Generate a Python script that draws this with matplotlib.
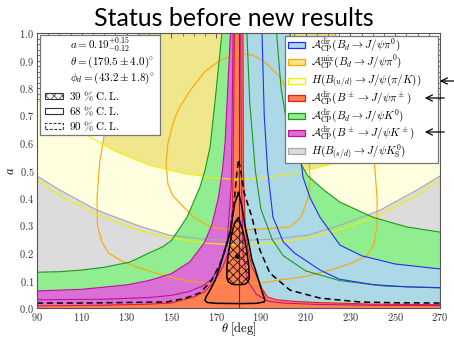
import numpy as np
import matplotlib.pyplot as plt
from matplotlib.patches import Rectangle, Polygon
from matplotlib.ticker import MultipleLocator, FuncFormatter

plt.rcParams['mathtext.fontset'] = 'cm'
plt.rcParams['font.family'] = 'serif'
plt.rcParams['font.serif'] = ['DejaVu Serif']
plt.rcParams['hatch.linewidth'] = 0.5

# ---- boundary curves (theta in deg, a) ----
# H(B_(u/d)) band, cream with yellow edges
hud_up_th = [90, 100, 112, 125, 140, 155, 170, 180, 190, 205, 220, 235, 248, 260, 270]
hud_up_a = [0.756, 0.70, 0.63, 0.57, 0.52, 0.49, 0.472, 0.468, 0.472, 0.49, 0.52, 0.57, 0.63, 0.70, 0.756]
hud_lo_th = [90, 100, 117, 135, 149, 165, 180, 195, 211, 225, 243, 260, 270]
hud_lo_a = [0.465, 0.41, 0.338, 0.284, 0.255, 0.236, 0.229, 0.236, 0.255, 0.284, 0.338, 0.41, 0.465]
# H(B_(s/d)) upper edge, gray
hsd_th = [90, 100, 117, 135, 149, 165, 180, 195, 211, 225, 243, 260, 270]
hsd_a = [0.48, 0.43, 0.355, 0.30, 0.265, 0.25, 0.245, 0.25, 0.265, 0.30, 0.355, 0.43, 0.48]

# A_CP^mix(Bd -> J/psi pi0): outer and inner orange contours
mix_out_th = [136, 129, 124, 120.4, 118, 116.8, 117, 119, 122, 128, 136, 148, 158, 170, 180,
              190, 197, 210, 222, 231, 237.4, 240.5, 241.9, 241.9, 240.5, 237, 231, 223]
mix_out_a = [1.0, 0.87, 0.75, 0.647, 0.53, 0.40, 0.30, 0.24, 0.20, 0.17, 0.145, 0.115, 0.097, 0.09, 0.088,
             0.091, 0.10, 0.115, 0.14, 0.165, 0.19, 0.23, 0.30, 0.40, 0.55, 0.70, 0.85, 1.0]
mix_in_th = [179.5, 171.7, 165, 158.3, 153, 150.7, 148.5, 147.6, 148.5, 150.5, 153.9, 160.1, 167.3, 175,
             180, 190, 203, 208, 211, 212, 211.5, 209, 205, 198.5, 191, 186, 179.5]
mix_in_a = [0.926, 0.90, 0.86, 0.79, 0.72, 0.67, 0.60, 0.527, 0.45, 0.41, 0.38, 0.33, 0.295, 0.285,
            0.284, 0.287, 0.295, 0.33, 0.40, 0.455, 0.55, 0.65, 0.74, 0.84, 0.90, 0.92, 0.926]

# A_CP^dir(Bd -> J/psi K0), green
gK_outL_th = [90, 100, 110, 120, 131.5, 140, 146, 150, 157, 162.8, 165, 167.3, 169.5, 172.6]
gK_outL_a = [0.13, 0.132, 0.138, 0.148, 0.167, 0.20, 0.222, 0.245, 0.33, 0.44, 0.50, 0.585, 0.75, 1.0]
gK_outR_th = [197, 199, 202, 206, 211, 218, 225.3, 240, 255, 270]
gK_outR_a = [1.0, 0.80, 0.65, 0.55, 0.48, 0.43, 0.385, 0.33, 0.295, 0.276]
gK_inR_th = [183.75, 185, 187.5, 190, 195, 200, 210, 225, 245, 270]
gK_inR_a = [1.0, 0.75, 0.50, 0.36, 0.25, 0.19, 0.135, 0.10, 0.08, 0.073]

# A_CP^dir(B+- -> J/psi K+-), magenta
mK_topL_th = [90, 110, 130, 140, 150, 158.3, 164.6, 168, 171, 172.8, 174, 176.4]
mK_topL_a = [0.062, 0.068, 0.084, 0.10, 0.125, 0.168, 0.236, 0.30, 0.40, 0.50, 0.60, 1.0]
mK_inL_th = [90, 120, 140, 150, 158, 164, 168, 172, 175, 176.8, 177.6]
mK_inL_a = [0.03, 0.032, 0.038, 0.046, 0.06, 0.08, 0.105, 0.16, 0.25, 0.45, 1.0]
mK_R_th = [181, 181.3, 182, 184, 188, 193, 200, 215, 240, 270]
mK_R_a = [1.0, 0.50, 0.20, 0.10, 0.05, 0.025, 0.018, 0.013, 0.01, 0.009]

# A_CP^dir(Bd -> J/psi pi0), light blue
bP_in_th = [180, 180]
bP_in_a = [0.0, 1.0]
bP_1_th = [190.5, 191.5, 193, 195.4, 200, 205, 216.4, 225, 240, 255, 270]
bP_1_a = [1.0, 0.70, 0.50, 0.33, 0.24, 0.20, 0.138, 0.105, 0.085, 0.077, 0.074]
bP_2_th = [203, 205, 207, 208.8, 212, 216.4, 225.3, 235, 250, 270]
bP_2_a = [1.0, 0.80, 0.60, 0.476, 0.40, 0.33, 0.229, 0.19, 0.16, 0.142]

# A_CP^dir(B+- -> J/psi pi+-), coral
rP_L_th = [90, 120, 140, 150, 160, 165, 169.5, 173, 175.5, 177.1, 177.6, 177.9, 178.2]
rP_L_a = [0.008, 0.01, 0.014, 0.018, 0.04, 0.06, 0.10, 0.15, 0.20, 0.284, 0.50, 0.75, 1.0]
rP_R_th = [182, 182.2, 183, 184.3, 186, 188.5, 190.5, 193, 197, 205, 215, 240, 270]
rP_R_a = [1.0, 0.50, 0.30, 0.21, 0.15, 0.11, 0.07, 0.04, 0.03, 0.024, 0.02, 0.014, 0.012]

# fit contours
cl39_th = [180, 178.3, 177, 175.5, 174.8, 174.8, 175.5, 177, 179, 181, 183, 184.3, 184.8, 184.6, 183.5, 182, 180]
cl39_a = [0.33, 0.31, 0.27, 0.20, 0.15, 0.11, 0.095, 0.087, 0.085, 0.085, 0.087, 0.095, 0.11, 0.15, 0.22, 0.28, 0.33]
cl68_th = [180, 178.3, 176.2, 173.5, 171.7, 169.5, 167.3, 165.5, 165, 166, 170, 180, 188, 191.5, 191.8,
           190.5, 189, 187.5, 186, 184.5, 183, 181.5, 180]
cl68_a = [0.42, 0.38, 0.27, 0.20, 0.15, 0.10, 0.065, 0.04, 0.028, 0.02, 0.017, 0.016, 0.017, 0.022, 0.03,
          0.06, 0.10, 0.14, 0.175, 0.24, 0.295, 0.37, 0.42]
cl90_th = [90, 110, 130, 148, 156, 162.8, 168, 171.7, 174.5, 176.2, 178, 179, 180, 181, 182.5, 186,
           189.6, 194, 203, 216.4, 234, 250, 270]
cl90_a = [0.018, 0.018, 0.02, 0.022, 0.035, 0.055, 0.10, 0.16, 0.22, 0.28, 0.38, 0.47, 0.54, 0.50, 0.42,
          0.33, 0.21, 0.127, 0.065, 0.036, 0.022, 0.019, 0.018]
best_th, best_a = 179.5, 0.19

# ---- figure ----
fig = plt.figure(figsize=(4.54, 3.37), dpi=100)
ax = fig.add_axes([37 / 454, 29 / 337, 403 / 454, 275 / 337])


def poly(th, a, **kw):
    ax.add_patch(Polygon(np.column_stack([th, a]), closed=True, **kw))


# fills, back to front
poly(mix_out_th, mix_out_a, facecolor='#F0E68C', edgecolor='none', zorder=1)
poly(hud_up_th + hud_lo_th[::-1], hud_up_a + hud_lo_a[::-1], facecolor='#FFFFE0', edgecolor='none', zorder=2)
poly([90] + hsd_th + [270], [0] + hsd_a + [0], facecolor='#DCDCDC', edgecolor='none', zorder=3)
poly([90] + gK_outL_th + gK_outR_th + [270], [0] + gK_outL_a + gK_outR_a + [0],
     facecolor='#90EE90', edgecolor='none', zorder=4)
poly([90] + mK_topL_th + mK_R_th + [270], [0] + mK_topL_a + mK_R_a + [0],
     facecolor='#DA70D6', edgecolor='none', zorder=5)
poly(bP_in_th + bP_2_th + [270], bP_in_a + bP_2_a + [0],
     facecolor='#ADD8E6', edgecolor='none', zorder=6)
poly([90] + rP_L_th + rP_R_th + [270], [0] + rP_L_a + rP_R_a + [0],
     facecolor='#FF7F50', edgecolor='none', zorder=7)

# edges
lw = 0.8
ax.plot(mix_out_th, mix_out_a, color='#FFA500', lw=lw, zorder=8)
ax.plot(mix_in_th, mix_in_a, color='#FFA500', lw=lw, zorder=8)
ax.plot(hud_up_th, hud_up_a, color='#F0F000', lw=lw, zorder=8)
ax.plot(hud_lo_th, hud_lo_a, color='#F0F000', lw=lw, zorder=8)
ax.plot(hsd_th, hsd_a, color='#A8A8A8', lw=lw, zorder=8)
ax.plot(gK_outL_th, gK_outL_a, color='#1A9A1A', lw=lw, zorder=8)
ax.plot(gK_outR_th, gK_outR_a, color='#1A9A1A', lw=lw, zorder=8)
ax.plot(gK_inR_th, gK_inR_a, color='#1A9A1A', lw=lw, zorder=8)
ax.plot(mK_topL_th, mK_topL_a, color='#C0109A', lw=lw, zorder=8)
ax.plot(mK_inL_th, mK_inL_a, color='#C0109A', lw=lw, zorder=8)
ax.plot(mK_R_th, mK_R_a, color='#C0109A', lw=lw, zorder=8)
ax.plot(rP_L_th, rP_L_a, color='#E02020', lw=lw, zorder=8)
ax.plot(rP_R_th, rP_R_a, color='#E02020', lw=lw, zorder=8)
ax.plot(bP_1_th, bP_1_a, color='#2030F0', lw=lw, zorder=8)
ax.plot(bP_2_th, bP_2_a, color='#2030F0', lw=lw, zorder=8)
ax.plot(bP_in_th, bP_in_a, color='#2030F0', lw=lw, zorder=8)

# contours
poly(cl39_th, cl39_a, facecolor='none', edgecolor='black', hatch='xxxx', lw=1.1, zorder=9)
ax.plot(cl68_th, cl68_a, color='black', lw=1.1, zorder=9)
ax.plot(cl90_th, cl90_a, color='black', lw=1.1, ls=(0, (4, 2.5)), zorder=9)
ax.plot([best_th], [best_a], 'o', color='black', ms=2.5, zorder=10)

ax.set_xlim(90, 270)
ax.set_ylim(0, 1)
ax.set_xticks(np.arange(90, 271, 20))
ax.set_yticks(np.arange(0, 1.01, 0.1))
ax.xaxis.set_minor_locator(MultipleLocator(5))
ax.yaxis.set_minor_locator(MultipleLocator(0.02))
ax.xaxis.set_major_formatter(FuncFormatter(lambda v, p: '$%d$' % v))
ax.yaxis.set_major_formatter(FuncFormatter(lambda v, p: '$%.1f$' % v))
ax.tick_params(which='both', direction='in', top=True, right=True, colors='#444444', labelsize=7.5,
               labelcolor='#333333', pad=2)
ax.tick_params(which='major', length=3.5, width=0.6)
ax.tick_params(which='minor', length=1.8, width=0.5)
for s in ax.spines.values():
    s.set_color('#555555')
    s.set_linewidth(0.8)
    s.set_zorder(20)
ax.set_xlabel(r'$\theta\ [\mathrm{deg}]$', fontsize=9)
ax.xaxis.set_label_coords(0.5, -0.045)
ax.set_ylabel(r'$a$', fontsize=9)
ax.yaxis.set_label_coords(-0.05, 0.5)

fig.text(234 / 454, 1 - 19 / 337, 'Status before new results', family='Lato',
         fontsize=18, ha='center', va='center')


# ---- legends (axes fraction from pixel positions) ----
def axx(px):
    return (px - 37) / 403


def axy(py):
    return (308 - py) / 275


T = ax.transAxes
fs = 8
ax.add_patch(Rectangle((axx(40), axy(135)), axx(160) - axx(40), axy(35) - axy(135), transform=T,
                       facecolor='white', edgecolor='#777777', lw=0.9, zorder=30))
ax.text(axx(100), axy(45), r'$a = 0.19^{+0.15}_{-0.12}$', transform=T, fontsize=fs, ha='center', va='center', zorder=31)
ax.text(axx(112), axy(62), r'$\theta = (179.5 \pm 4.0)^{\circ}$', transform=T, fontsize=fs, ha='center', va='center', zorder=31)
ax.text(axx(112), axy(78), r'$\phi_d = (43.2 \pm 1.8)^{\circ}$', transform=T, fontsize=fs, ha='center', va='center', zorder=31)
cl_rows = [(96, r'$39\ \%\ \mathrm{C.L.}$', dict(hatch='xxxx', ls='-')),
           (111, r'$68\ \%\ \mathrm{C.L.}$', dict(ls='-')),
           (126, r'$90\ \%\ \mathrm{C.L.}$', dict(ls=(0, (2.5, 1.5))))]
for py, lab, st in cl_rows:
    ax.add_patch(Rectangle((axx(45), axy(py + 3)), axx(63) - axx(45), axy(py - 3) - axy(py + 3), transform=T,
                           facecolor='white', edgecolor='#333333', lw=0.8, zorder=31, **st))
    ax.text(axx(69), axy(py), lab, transform=T, fontsize=fs, ha='left', va='center', zorder=31)

ax.add_patch(Rectangle((axx(285), axy(163)), axx(438) - axx(285), axy(36) - axy(163), transform=T,
                       facecolor='white', edgecolor='#777777', lw=0.9, zorder=30, clip_on=False))
leg_rows = [
    (45, r'$\mathcal{A}_{\rm CP}^{\rm dir}(B_d \to J/\psi\pi^0)$', '#ADD8E6', '#2030F0'),
    (62, r'$\mathcal{A}_{\rm CP}^{\rm mix}(B_d \to J/\psi\pi^0)$', '#F0E68C', '#FFA500'),
    (81, r'$H(B_{(u/d)} \to J/\psi(\pi/K))$', '#FFFFE0', '#F0F000'),
    (98, r'$\mathcal{A}_{\rm CP}^{\rm dir}(B^\pm \to J/\psi\pi^\pm)$', '#FF7F50', '#E02020'),
    (116, r'$\mathcal{A}_{\rm CP}^{\rm dir}(B_d \to J/\psi K^0)$', '#90EE90', '#1A9A1A'),
    (133, r'$\mathcal{A}_{\rm CP}^{\rm dir}(B^\pm \to J/\psi K^\pm)$', '#DA70D6', '#C0109A'),
    (151, r'$H(B_{(s/d)} \to J/\psi K_{\rm S}^0)$', '#DCDCDC', '#A8A8A8'),
]
for py, lab, fc, ec in leg_rows:
    ax.add_patch(Rectangle((axx(288), axy(py + 3)), axx(305) - axx(288), axy(py - 3) - axy(py + 3), transform=T,
                           facecolor=fc, edgecolor=ec, lw=0.9, zorder=31))
    ax.text(axx(311), axy(py), lab, transform=T, fontsize=fs, ha='left', va='center', zorder=31)

# arrows pointing at the three new inputs
for x0, x1, py in [(437, 462, 81), (422, 447, 98), (422, 447, 132)]:
    ax.annotate('', xy=(x0, 337 - py), xytext=(x1, 337 - py), xycoords='figure pixels',
                textcoords='figure pixels', annotation_clip=False, zorder=40,
                arrowprops=dict(arrowstyle='->,head_length=0.45,head_width=0.22', color='black', lw=0.9))

fig.savefig('out.png', dpi=100)
